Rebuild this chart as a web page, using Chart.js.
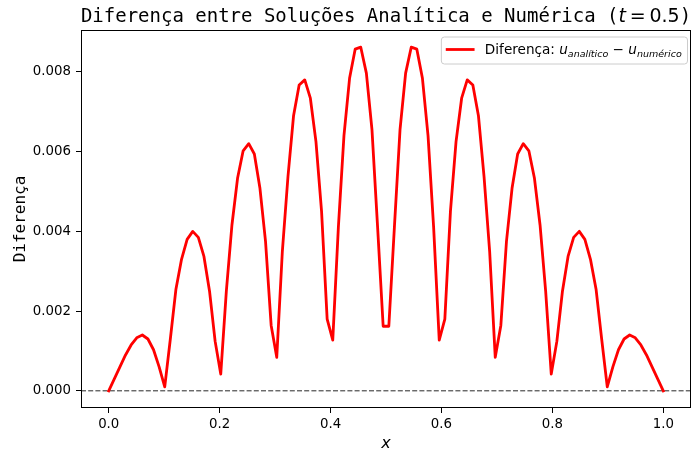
<!DOCTYPE html>
<html>
<head>
<meta charset="utf-8">
<script src="https://cdn.jsdelivr.net/npm/chart.js@4/dist/chart.umd.min.js"></script>
<style>
  html, body { margin: 0; padding: 0; background: #ffffff; }
  #wrap { width: 693px; height: 453px; }
</style>
</head>
<body>
<div id="wrap"><canvas id="c" width="693" height="453"></canvas></div>
<script>
// Grid points x in [0, 1] (100 nodes)
const xGrid = [
  0.0000, 0.0101, 0.0202, 0.0303, 0.0404, 0.0505, 0.0606, 0.0707, 0.0808, 0.0909,
  0.1010, 0.1111, 0.1212, 0.1313, 0.1414, 0.1515, 0.1616, 0.1717, 0.1818, 0.1919,
  0.2020, 0.2121, 0.2222, 0.2323, 0.2424, 0.2525, 0.2626, 0.2727, 0.2828, 0.2929,
  0.3030, 0.3131, 0.3232, 0.3333, 0.3434, 0.3535, 0.3636, 0.3737, 0.3838, 0.3939,
  0.4040, 0.4141, 0.4242, 0.4343, 0.4444, 0.4545, 0.4646, 0.4747, 0.4848, 0.4949,
  0.5051, 0.5152, 0.5253, 0.5354, 0.5455, 0.5556, 0.5657, 0.5758, 0.5859, 0.5960,
  0.6061, 0.6162, 0.6263, 0.6364, 0.6465, 0.6566, 0.6667, 0.6768, 0.6869, 0.6970,
  0.7071, 0.7172, 0.7273, 0.7374, 0.7475, 0.7576, 0.7677, 0.7778, 0.7879, 0.7980,
  0.8081, 0.8182, 0.8283, 0.8384, 0.8485, 0.8586, 0.8687, 0.8788, 0.8889, 0.8990,
  0.9091, 0.9192, 0.9293, 0.9394, 0.9495, 0.9596, 0.9697, 0.9798, 0.9899, 1.0000
];

// Difference u_analitico - u_numerico at t = 0.5
const diffValues = [
  0.00000, 0.00030, 0.00060, 0.00090, 0.00115, 0.00133, 0.00140, 0.00130, 0.00103, 0.00060,
  0.00010, 0.00130, 0.00255, 0.00330, 0.00380, 0.00400, 0.00385, 0.00337, 0.00250, 0.00124,
  0.00042, 0.00250, 0.00416, 0.00533, 0.00602, 0.00620, 0.00594, 0.00508, 0.00374, 0.00164,
  0.00084, 0.00350, 0.00537, 0.00690, 0.00767, 0.00780, 0.00734, 0.00625, 0.00450, 0.00180,
  0.00127, 0.00410, 0.00640, 0.00784, 0.00857, 0.00862, 0.00797, 0.00655, 0.00412, 0.00162,
  0.00162, 0.00412, 0.00655, 0.00797, 0.00862, 0.00857, 0.00784, 0.00640, 0.00410, 0.00127,
  0.00180, 0.00450, 0.00625, 0.00734, 0.00780, 0.00767, 0.00690, 0.00537, 0.00350, 0.00084,
  0.00164, 0.00374, 0.00508, 0.00594, 0.00620, 0.00602, 0.00533, 0.00416, 0.00250, 0.00042,
  0.00124, 0.00250, 0.00337, 0.00385, 0.00400, 0.00380, 0.00330, 0.00255, 0.00130, 0.00010,
  0.00060, 0.00103, 0.00130, 0.00140, 0.00133, 0.00115, 0.00090, 0.00060, 0.00030, 0.00000
];

const xTicks = [0.0, 0.2, 0.4, 0.6, 0.8, 1.0];
const yTicks = [0.000, 0.002, 0.004, 0.006, 0.008];
const referenceLevel = 0;

// axis limits with 5% margins around the data
const xMinData = Math.min(...xGrid), xMaxData = Math.max(...xGrid);
const yMinData = Math.min(...diffValues, referenceLevel), yMaxData = Math.max(...diffValues);
const xPad = 0.05 * (xMaxData - xMinData), yPad = 0.05 * (yMaxData - yMinData);
const xLimits = [xMinData - xPad, xMaxData + xPad];
const yLimits = [yMinData - yPad, yMaxData + yPad];

const FS = 13.33;
const LFS = 13.6;
const SANS = '"DejaVu Sans", sans-serif';
const MONO = '"DejaVu Sans Mono", monospace';

function drawRuns(ctx, runs, x, baseline, align) {
  let total = 0;
  runs.forEach(r => { ctx.font = r.font; r.w = ctx.measureText(r.text).width; total += r.w; });
  let cx = align === 'center' ? x - total / 2 : x;
  ctx.textAlign = 'left';
  ctx.textBaseline = 'alphabetic';
  runs.forEach(r => {
    ctx.font = r.font;
    ctx.fillText(r.text, cx, baseline + (r.dy || 0));
    cx += r.w;
  });
  return total;
}

const decorations = {
  id: 'decorations',
  afterDraw(chart) {
    const ctx = chart.ctx;
    const a = chart.chartArea;
    ctx.save();

    // axes frame
    ctx.strokeStyle = '#000';
    ctx.lineWidth = 1;
    ctx.strokeRect(Math.round(a.left) + 0.5, Math.round(a.top) + 0.5,
                   Math.round(a.right - a.left) - 1, Math.round(a.bottom - a.top) - 1);

    ctx.fillStyle = '#000';
    // title
    const tf = 19;
    drawRuns(ctx, [
      { text: 'Diferença entre Soluções Analítica e Numérica (', font: `${tf}px ${MONO}` },
      { text: 't', font: `italic ${tf}px ${SANS}` },
      { text: '\u2009=\u2009', font: `${tf}px ${SANS}` },
      { text: '0.5', font: `${tf}px ${SANS}` },
      { text: ')', font: `${tf}px ${MONO}` }
    ], (a.left + a.right) / 2, a.top - 8, 'center');

    // x axis label
    drawRuns(ctx, [{ text: 'x', font: `italic 16px ${SANS}` }], (a.left + a.right) / 2, 448, 'center');

    // y axis label
    ctx.save();
    ctx.translate(25, (a.top + a.bottom) / 2);
    ctx.rotate(-Math.PI / 2);
    drawRuns(ctx, [{ text: 'Diferença', font: `16px ${MONO}` }], 0, 0, 'center');
    ctx.restore();

    // legend
    const ds = chart.data.datasets[0];
    const runs = [
      { text: 'Diferença: ', font: `${LFS}px ${SANS}` },
      { text: 'u', font: `italic ${LFS}px ${SANS}` },
      { text: 'analítico', font: `italic ${LFS * 0.7}px ${SANS}`, dy: 2.5 },
      { text: ' \u2212 ', font: `${LFS}px ${SANS}` },
      { text: 'u', font: `italic ${LFS}px ${SANS}` },
      { text: 'numérico', font: `italic ${LFS * 0.7}px ${SANS}`, dy: 2.5 }
    ];
    let tw = 0;
    runs.forEach(r => { ctx.font = r.font; tw += ctx.measureText(r.text).width; });
    const pad = 5.3, handle = 28, gap = 10.7;
    const bRight = a.right - 4, bTop = a.top + 6.5, bH = 27;
    const bLeft = bRight - (pad * 2 + handle + gap + tw);
    ctx.beginPath();
    ctx.roundRect(bLeft + 0.5, bTop + 0.5, bRight - bLeft, bH, 3);
    ctx.fillStyle = 'rgba(255,255,255,0.8)';
    ctx.fill();
    ctx.strokeStyle = '#cccccc';
    ctx.lineWidth = 1;
    ctx.stroke();
    const rowY = bTop + 13;
    ctx.beginPath();
    ctx.moveTo(bLeft + pad + 1, rowY);
    ctx.lineTo(bLeft + pad + handle - 1, rowY);
    ctx.strokeStyle = ds.borderColor;
    ctx.lineWidth = ds.borderWidth;
    ctx.lineCap = 'square';
    ctx.stroke();
    ctx.fillStyle = '#000';
    drawRuns(ctx, runs, bLeft + pad + handle + gap, rowY + 4.5, 'left');

    ctx.restore();
  }
};

new Chart(document.getElementById('c'), {
  type: 'line',
  data: {
    datasets: [
      {
        label: 'Diferença',
        data: xGrid.map((x, i) => ({ x: x, y: diffValues[i] })),
        borderColor: '#ff0000',
        borderWidth: 2.8,
        borderCapStyle: 'square',
        borderJoinStyle: 'round',
        pointRadius: 0,
        tension: 0,
        fill: false,
        order: 1
      },
      {
        label: 'zero',
        data: [{ x: xLimits[0], y: referenceLevel }, { x: xLimits[1], y: referenceLevel }],
        borderColor: 'rgba(0,0,0,0.85)',
        borderWidth: 1,
        borderDash: [5, 2.2],
        pointRadius: 0,
        fill: false,
        order: 2
      }
    ]
  },
  options: {
    responsive: false,
    animation: false,
    devicePixelRatio: 1,
    layout: { padding: { top: 30, right: 2, bottom: 0, left: 0 } },
    plugins: { legend: { display: false }, title: { display: false }, tooltip: { enabled: false } },
    scales: {
      x: {
        type: 'linear',
        min: xLimits[0],
        max: xLimits[1],
        afterBuildTicks: ax => { ax.ticks = xTicks.map(v => ({ value: v })); },
        afterFit: s => { s.height = 45; },
        grid: { drawOnChartArea: false, drawTicks: true, tickLength: 5, color: '#000', lineWidth: 1 },
        border: { display: false },
        ticks: {
          padding: 4,
          maxRotation: 0,
          color: '#000',
          font: { family: 'DejaVu Sans', size: FS },
          callback: v => Number(v).toFixed(1)
        }
      },
      y: {
        type: 'linear',
        min: yLimits[0],
        max: yLimits[1],
        afterBuildTicks: ax => { ax.ticks = yTicks.map(v => ({ value: v })); },
        afterFit: s => { s.width = 81; },
        grid: { drawOnChartArea: false, drawTicks: true, tickLength: 5, color: '#000', lineWidth: 1 },
        border: { display: false },
        ticks: {
          padding: 5,
          color: '#000',
          font: { family: 'DejaVu Sans', size: FS },
          callback: v => Number(v).toFixed(3)
        }
      }
    }
  },
  plugins: [decorations]
});
</script>
</body>
</html>
